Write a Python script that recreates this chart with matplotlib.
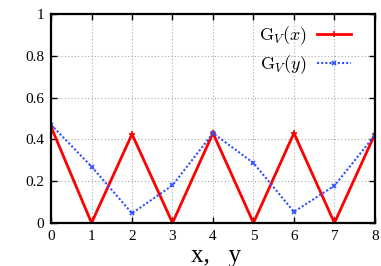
import matplotlib
matplotlib.use("Agg")
import matplotlib.pyplot as plt

x_vals = [0, 1, 2, 3, 4, 5, 6, 7, 8]
gx_vals = [0.46, 0.0, 0.425, 0.0, 0.43, 0.0, 0.43, 0.0, 0.425]
gy_vals = [0.47, 0.27, 0.046, 0.18, 0.43, 0.287, 0.053, 0.178, 0.42]
x_ticks = [0, 1, 2, 3, 4, 5, 6, 7, 8]
y_ticks = [0, 0.2, 0.4, 0.6, 0.8, 1]
y_ticklabels = ["0", "0.2", "0.4", "0.6", "0.8", "1"]

plt.rcParams['font.family'] = ['Liberation Serif', 'DejaVu Serif']
plt.rcParams['mathtext.fontset'] = 'cm'

fig = plt.figure(figsize=(3.81, 2.66), dpi=100)
ax = fig.add_axes([0.134, 0.162, 0.850, 0.785])

ax.plot(x_vals, gx_vals, color='#ff0000', lw=2.0, marker='+', ms=4, mew=1.2,
        label=r'$\mathrm{G}_V(x)$')
ax.plot(x_vals, gy_vals, color='#3050ff', lw=1.5, ls=(0, (1, 1)), marker='x', ms=3.5, mew=1.2,
        label=r'$\mathrm{G}_V(y)$')

ax.set_xlim(0, 8)
ax.set_ylim(0, 1)
ax.set_xticks(x_ticks)
ax.set_yticks(y_ticks)
ax.set_yticklabels(y_ticklabels)
ax.tick_params(direction='in', top=True, right=True, labelsize=11, length=4, width=1, pad=5)
for s in ax.spines.values():
    s.set_linewidth(1.6)
ax.grid(True, color='#aaaaaa', ls=(0, (1, 2)), lw=0.8)
ax.set_xlabel('x,   y', fontsize=18, labelpad=0)
ax.xaxis.set_label_coords(0.51, -0.187, transform=ax.transAxes)
ax.xaxis.label.set_va('baseline')

leg = ax.legend(loc='upper right', bbox_to_anchor=(0.926, 0.95), frameon=False, markerfirst=False,
                fontsize=13, handlelength=1.9, handletextpad=0.55, labelspacing=0.35,
                borderaxespad=0, borderpad=0)

fig.savefig('out.png', dpi=100)
